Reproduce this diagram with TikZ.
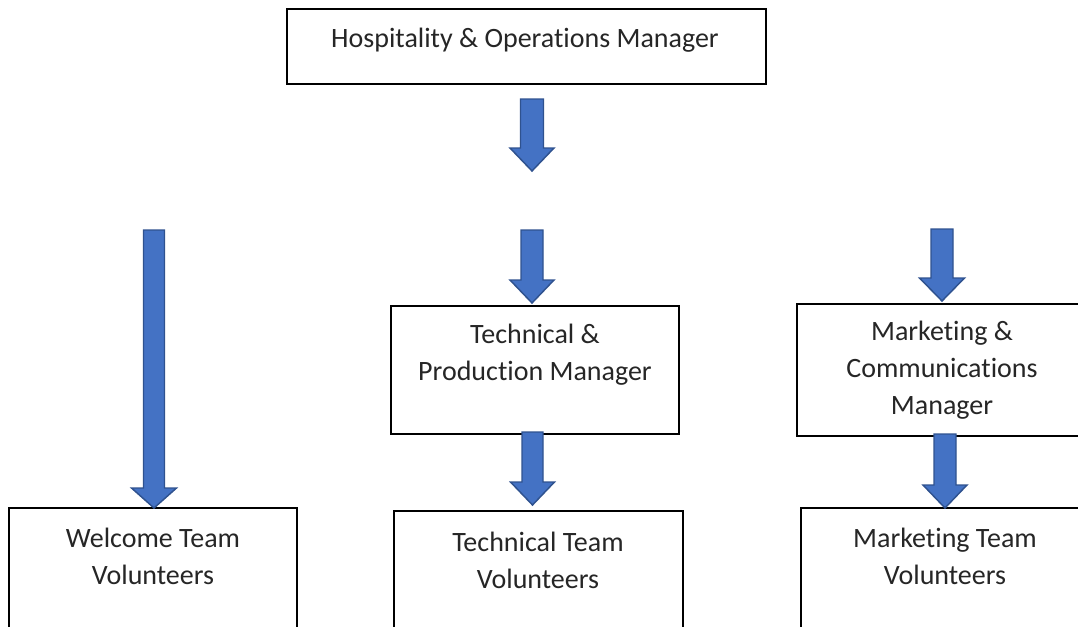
\documentclass[tikz,border=0pt]{standalone}
\usepackage{fontspec}
\setmainfont{Carlito}[Ligatures=NoCommon]
\definecolor{arrowfill}{HTML}{4472C4}
\definecolor{arrowline}{HTML}{2F528F}
\definecolor{txtcol}{HTML}{262626}
\def\px{0.75pt}
\newcommand\blockarrow[6]{%
  \draw[blk] ({#1-#4},#2) -- ({#1+#4},#2) -- ({#1+#4},{#3-#6}) -- ({#1+#5},{#3-#6})
    -- (#1,#3) -- ({#1-#5},{#3-#6}) -- ({#1-#4},{#3-#6}) -- cycle;}
\begin{document}
\begin{tikzpicture}[x=0.75pt,y=-0.75pt,
  box/.style={draw=black, line width=1pt, fill=white, inner sep=0pt},
  txt/.style={align=center, font=\fontsize{21}{27.8}\selectfont, text=txtcol, inner sep=0pt},
  blk/.style={fill=arrowfill, draw=arrowline, line width=1.1pt, line join=miter}]
\useasboundingbox (0,0) rectangle (1078,626);
\clip (0,0) rectangle (1078,626);
% boxes
\node[box, minimum width=479*\px, minimum height=75*\px] (hom) at (526.5,46.5) {};
\node[box, minimum width=288*\px, minimum height=128*\px] (tpm) at (535,370) {};
\node[box, minimum width=293*\px, minimum height=132*\px] (mcm) at (943.5,370) {};
\node[box, minimum width=288*\px, minimum height=132*\px] (wtv) at (153,574) {};
\node[box, minimum width=289*\px, minimum height=134*\px] (ttv) at (538.5,578) {};
\node[box, minimum width=289*\px, minimum height=132*\px] (mtv) at (945.5,574) {};
% texts
\node[txt] (homt) at (525,40) {Hospitality \& Operations Manager};
\node[txt] (tpmt) at (535,355) {Technical \&\\Production Manager};
\node[txt] (mcmt) at (942,370) {Marketing \&\\Communications\\Manager};
\node[txt] (wtvt) at (153,556) {Welcome Team\\Volunteers};
\node[txt] (ttvt) at (538,560) {Technical Team\\Volunteers};
\node[txt] (mtvt) at (945,556) {Marketing Team\\Volunteers};
% arrows
\blockarrow{532}{99}{171}{11.5}{22}{23}
\blockarrow{154}{230}{508}{10.5}{22.5}{20}
\blockarrow{532}{230}{303}{11}{22}{23}
\blockarrow{942}{229}{301}{11}{22.5}{23}
\blockarrow{532.5}{432}{505}{10.5}{22}{23}
\blockarrow{945}{434}{508}{11}{22}{23}
\end{tikzpicture}
\end{document}
